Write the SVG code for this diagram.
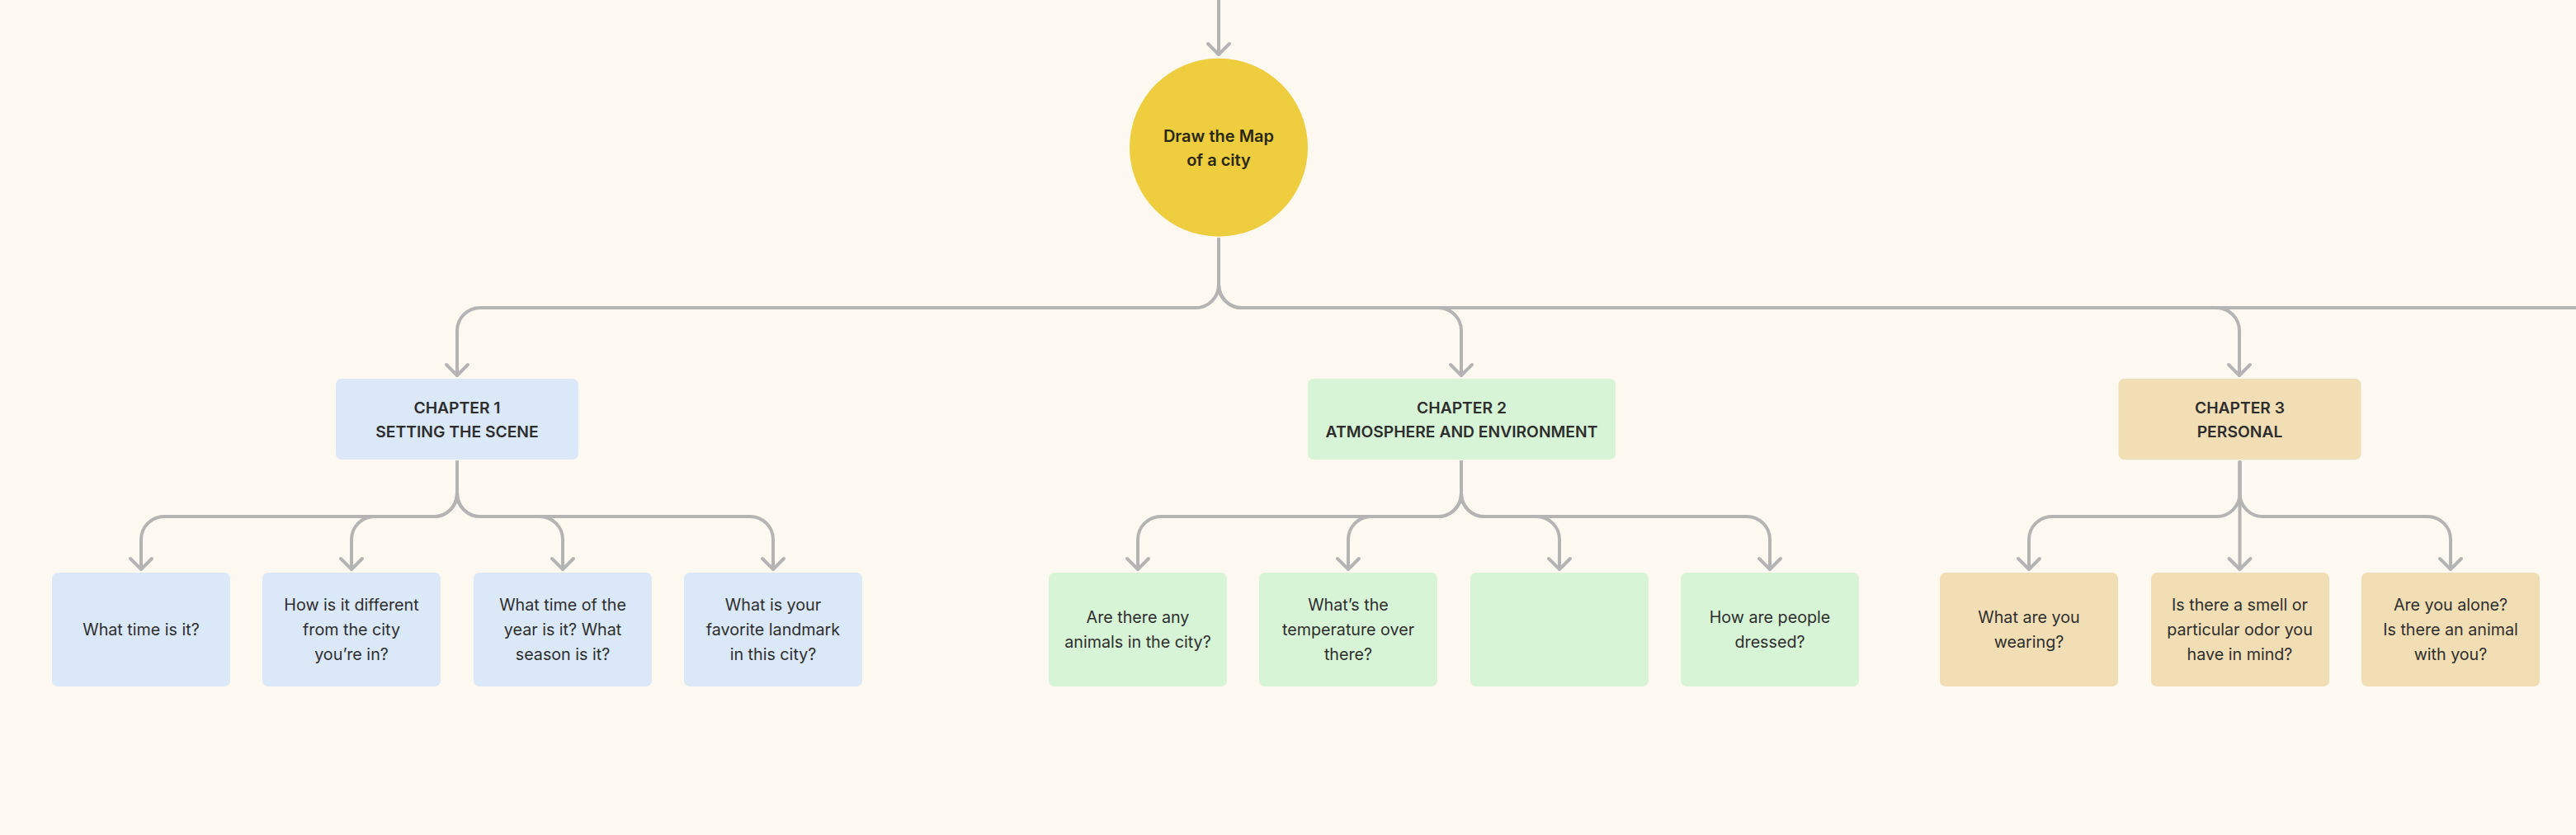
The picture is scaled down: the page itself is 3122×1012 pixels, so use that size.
<svg xmlns="http://www.w3.org/2000/svg" width="3122" height="1012" viewBox="0 0 3122 1012">
<style>
.c{fill:none;stroke:#B4B4B4;stroke-width:4;stroke-linecap:round;stroke-linejoin:round}
.t{font-family:Inter,"Noto Sans","Liberation Sans",sans-serif;fill:#2E2E2E;text-anchor:middle}
.q{font-size:19.7px;font-weight:400}
.h{font-size:19.3px;font-weight:600;fill:#2D2D2D}
.m{font-size:20px;font-weight:600;fill:#2A2813}
.b{fill:#DAE8F8}
.g{fill:#D8F4D6}
.o{fill:#F2DEB5}
</style>
<defs>
<marker id="a" viewBox="-16 -16 32 20" refX="0" refY="0" markerWidth="32" markerHeight="20" markerUnits="userSpaceOnUse" orient="auto-start-reverse" overflow="visible">
<polyline points="-13,-13 0,0 13,-13" fill="none" stroke="#B4B4B4" stroke-width="4" stroke-linecap="round" stroke-linejoin="round" transform="rotate(-90)"/>
</marker>
</defs>
<rect width="3122" height="1012" fill="#FDF8F0"/>
<g id="connectors">
<path class="c" d="M1477,-4 V66" marker-end="url(#a)"/>
<path class="c" d="M1477,290 V345 A28,28 0 0 1 1449,373 H582 A28,28 0 0 0 554,401 V455" marker-end="url(#a)"/>
<path class="c" d="M1477,290 V345 A28,28 0 0 0 1505,373 H1743 A28,28 0 0 1 1771,401 V455" marker-end="url(#a)"/>
<path class="c" d="M1477,290 V345 A28,28 0 0 0 1505,373 H2686 A28,28 0 0 1 2714,401 V455" marker-end="url(#a)"/>
<path class="c" d="M1477,290 V345 A28,28 0 0 0 1505,373 H3130"/>
<path class="c" d="M554,560 V598 A28,28 0 0 1 526,626 H199 A28,28 0 0 0 171,654 V690" marker-end="url(#a)"/>
<path class="c" d="M554,560 V598 A28,28 0 0 1 526,626 H454 A28,28 0 0 0 426,654 V690" marker-end="url(#a)"/>
<path class="c" d="M554,560 V598 A28,28 0 0 0 582,626 H654 A28,28 0 0 1 682,654 V690" marker-end="url(#a)"/>
<path class="c" d="M554,560 V598 A28,28 0 0 0 582,626 H909 A28,28 0 0 1 937,654 V690" marker-end="url(#a)"/>
<path class="c" d="M1771,560 V598 A28,28 0 0 1 1743,626 H1407 A28,28 0 0 0 1379,654 V690" marker-end="url(#a)"/>
<path class="c" d="M1771,560 V598 A28,28 0 0 1 1743,626 H1662 A28,28 0 0 0 1634,654 V690" marker-end="url(#a)"/>
<path class="c" d="M1771,560 V598 A28,28 0 0 0 1799,626 H1862 A28,28 0 0 1 1890,654 V690" marker-end="url(#a)"/>
<path class="c" d="M1771,560 V598 A28,28 0 0 0 1799,626 H2117 A28,28 0 0 1 2145,654 V690" marker-end="url(#a)"/>
<path class="c" d="M2714.5,560 V598 A28,28 0 0 1 2686.5,626 H2487 A28,28 0 0 0 2459,654 V690" marker-end="url(#a)"/>
<path class="c" d="M2714.5,560 V690" marker-end="url(#a)"/>
<path class="c" d="M2714.5,560 V598 A28,28 0 0 0 2742.5,626 H2942 A28,28 0 0 1 2970,654 V690" marker-end="url(#a)"/>
</g>
<g id="root">
<circle cx="1477" cy="178.7" r="108" fill="#EECD3F"/>
<text class="t m" x="1477" y="172">Draw the Map</text>
<text class="t m" x="1477" y="201">of a city</text>
</g>
<g id="ch1">
<rect class="b" x="407" y="459" width="294" height="98" rx="7"/>
<text class="t h" x="554" y="500.5">CHAPTER 1</text>
<text class="t h" x="554" y="530">SETTING THE SCENE</text>
</g>
<g id="ch2">
<rect class="g" x="1585" y="459" width="373" height="98" rx="7"/>
<text class="t h" x="1771.5" y="500.5">CHAPTER 2</text>
<text class="t h" x="1771.5" y="530">ATMOSPHERE AND ENVIRONMENT</text>
</g>
<g id="ch3">
<rect class="o" x="2567.5" y="459" width="294" height="98" rx="7"/>
<text class="t h" x="2714.5" y="500.5">CHAPTER 3</text>
<text class="t h" x="2714.5" y="530">PERSONAL</text>
</g>
<g id="q1a">
<rect class="b" x="63" y="694" width="216" height="138" rx="7"/>
<text class="t q" x="171" y="770">What time is it?</text>
</g>
<g id="q1b">
<rect class="b" x="318" y="694" width="216" height="138" rx="7"/>
<text class="t q" x="426" y="740">How is it different</text>
<text class="t q" x="426" y="770">from the city</text>
<text class="t q" x="426" y="800">you’re in?</text>
</g>
<g id="q1c">
<rect class="b" x="574" y="694" width="216" height="138" rx="7"/>
<text class="t q" x="682" y="740">What time of the</text>
<text class="t q" x="682" y="770">year is it? What</text>
<text class="t q" x="682" y="800">season is it?</text>
</g>
<g id="q1d">
<rect class="b" x="829" y="694" width="216" height="138" rx="7"/>
<text class="t q" x="937" y="740">What is your</text>
<text class="t q" x="937" y="770">favorite landmark</text>
<text class="t q" x="937" y="800">in this city?</text>
</g>
<g id="q2a">
<rect class="g" x="1271" y="694" width="216" height="138" rx="7"/>
<text class="t q" x="1379" y="755">Are there any</text>
<text class="t q" x="1379" y="785">animals in the city?</text>
</g>
<g id="q2b">
<rect class="g" x="1526" y="694" width="216" height="138" rx="7"/>
<text class="t q" x="1634" y="740">What’s the</text>
<text class="t q" x="1634" y="770">temperature over</text>
<text class="t q" x="1634" y="800">there?</text>
</g>
<g id="q2c">
<rect class="g" x="1782" y="694" width="216" height="138" rx="7"/>
</g>
<g id="q2d">
<rect class="g" x="2037" y="694" width="216" height="138" rx="7"/>
<text class="t q" x="2145" y="755">How are people</text>
<text class="t q" x="2145" y="785">dressed?</text>
</g>
<g id="q3a">
<rect class="o" x="2351" y="694" width="216" height="138" rx="7"/>
<text class="t q" x="2459" y="755">What are you</text>
<text class="t q" x="2459" y="785">wearing?</text>
</g>
<g id="q3b">
<rect class="o" x="2607" y="694" width="216" height="138" rx="7"/>
<text class="t q" x="2714.5" y="740">Is there a smell or</text>
<text class="t q" x="2714.5" y="770">particular odor you</text>
<text class="t q" x="2714.5" y="800">have in mind?</text>
</g>
<g id="q3c">
<rect class="o" x="2862" y="694" width="216" height="138" rx="7"/>
<text class="t q" x="2970" y="740">Are you alone?</text>
<text class="t q" x="2970" y="770">Is there an animal</text>
<text class="t q" x="2970" y="800">with you?</text>
</g>
</svg>
